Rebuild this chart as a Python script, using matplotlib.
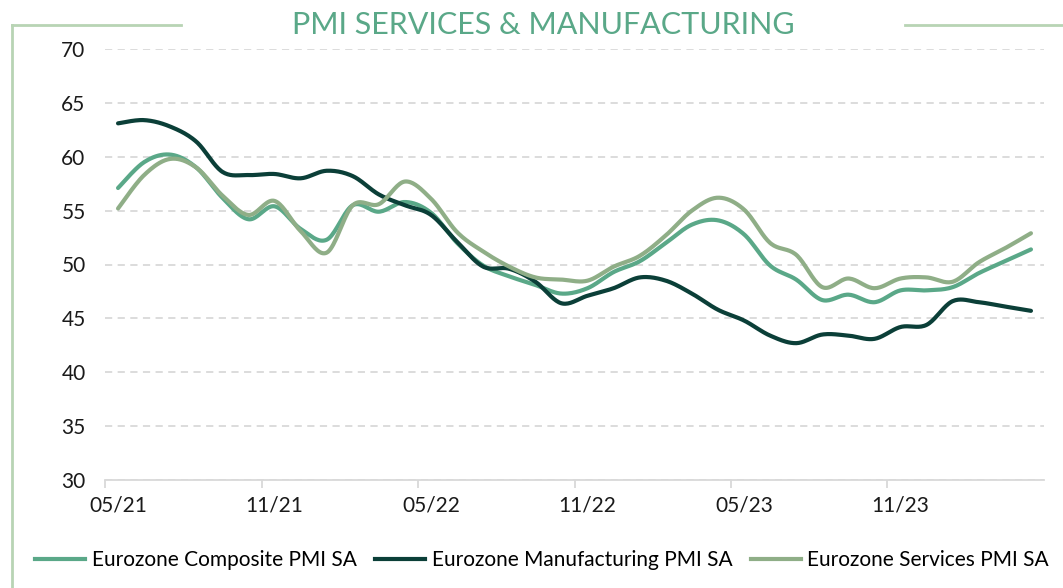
import matplotlib.pyplot as plt
import numpy as np
from matplotlib.lines import Line2D

# monthly values, 05/21 .. 04/24
months = ['05/21', '06/21', '07/21', '08/21', '09/21', '10/21', '11/21', '12/21',
          '01/22', '02/22', '03/22', '04/22', '05/22', '06/22', '07/22', '08/22',
          '09/22', '10/22', '11/22', '12/22', '01/23', '02/23', '03/23', '04/23',
          '05/23', '06/23', '07/23', '08/23', '09/23', '10/23', '11/23', '12/23',
          '01/24', '02/24', '03/24', '04/24']

composite = [57.1, 59.5, 60.2, 59.0, 56.2, 54.2, 55.4, 53.3, 52.3, 55.5, 54.9, 55.8,
             54.8, 52.0, 49.9, 48.9, 48.1, 47.3, 47.8, 49.3, 50.3, 52.0, 53.7, 54.1,
             52.8, 49.9, 48.6, 46.7, 47.2, 46.5, 47.6, 47.6, 47.9, 49.2, 50.3, 51.4]

manufacturing = [63.1, 63.4, 62.8, 61.4, 58.6, 58.3, 58.4, 58.0, 58.7, 58.2, 56.5, 55.5,
                 54.6, 52.1, 49.8, 49.6, 48.4, 46.4, 47.1, 47.8, 48.8, 48.5, 47.3, 45.8,
                 44.8, 43.4, 42.7, 43.5, 43.4, 43.1, 44.2, 44.4, 46.6, 46.5, 46.1, 45.7]

services = [55.2, 58.3, 59.8, 59.0, 56.4, 54.6, 55.9, 53.1, 51.1, 55.5, 55.6, 57.7,
            56.1, 53.0, 51.2, 49.8, 48.8, 48.6, 48.5, 49.8, 50.8, 52.7, 55.0, 56.2,
            55.1, 52.0, 50.9, 47.9, 48.7, 47.8, 48.7, 48.8, 48.4, 50.2, 51.5, 52.9]

names = ['Eurozone Composite PMI SA', 'Eurozone Manufacturing PMI SA', 'Eurozone Services PMI SA']
colors = ['#5aa888', '#0b3f38', '#8fae87']

plt.rcParams['font.family'] = ['Lato', 'DejaVu Sans']


def smooth(y, n=20):
    # Excel-style smoothed line (Catmull-Rom through the points)
    y = np.asarray(y, dtype=float)
    x = np.arange(len(y), dtype=float)
    pts = np.column_stack([x, y])
    out = []
    t = np.linspace(0, 1, n, endpoint=False)[:, None]
    for i in range(len(pts) - 1):
        p0 = pts[max(i - 1, 0)]
        p1 = pts[i]
        p2 = pts[i + 1]
        p3 = pts[min(i + 2, len(pts) - 1)]
        c1 = p1 + (p2 - p0) / 6
        c2 = p2 - (p3 - p1) / 6
        seg = ((1 - t) ** 3) * p1 + 3 * ((1 - t) ** 2) * t * c1 + 3 * (1 - t) * t ** 2 * c2 + t ** 3 * p2
        out.append(seg)
    out.append(pts[-1:])
    out = np.vstack(out)
    return out[:, 0], out[:, 1]


fig = plt.figure(figsize=(10.63, 5.88), dpi=100)
ax = fig.add_axes([105 / 1063, 1 - 480 / 588, (1044 - 105) / 1063, (480 - 49) / 588])

for vals, c in zip([composite, manufacturing, services], colors):
    sx, sy = smooth(vals)
    ax.plot(sx, sy, color=c, lw=3, solid_capstyle='round')

ax.set_xlim(-0.5, len(months) - 0.5)
ax.set_ylim(30, 70)
ax.set_yticks(range(30, 71, 5))
ax.grid(axis='y', color='#d9d9d9', linestyle=(0, (4, 3)), lw=1.3)
ax.set_axisbelow(True)

ticks = np.arange(0, len(months), 6)
ax.set_xticks(ticks - 0.5)
ax.set_xticklabels([])
ax.set_xticks(ticks, minor=True)
ax.set_xticklabels([months[i] for i in ticks], minor=True)
ax.tick_params(axis='x', which='major', length=6, color='#d9d9d9', width=1.3)
ax.tick_params(axis='x', which='minor', length=0, pad=11, labelsize=15, labelcolor='#1a1a1a')
ax.tick_params(axis='y', length=0, pad=14, labelsize=15, labelcolor='#1a1a1a')

for s in ['top', 'right', 'left']:
    ax.spines[s].set_visible(False)
ax.spines['bottom'].set_color('#d9d9d9')
ax.spines['bottom'].set_linewidth(1.3)

# frame lines around the chart
frame = '#b8d4b4'
fig.add_artist(Line2D([12 / 1063, 12 / 1063], [1 - 25 / 588, 0], color=frame, lw=2))
fig.add_artist(Line2D([12 / 1063, 181 / 1063], [1 - 25 / 588, 1 - 25 / 588], color=frame, lw=2))
fig.add_artist(Line2D([905 / 1063, 1], [1 - 25 / 588, 1 - 25 / 588], color=frame, lw=2))

fig.text(543 / 1063, 1 - 25 / 588, 'PMI SERVICES & MANUFACTURING', ha='center', va='center',
         fontsize=22, color='#5aa888')

handles = [Line2D([], [], color=c, lw=3) for c in colors]
fig.legend(handles, names, loc='center', bbox_to_anchor=(0.51, 1 - 560 / 588), ncol=3,
           frameon=False, fontsize=15, handlelength=2.4, handletextpad=0.3, columnspacing=0.9)

fig.savefig('out.png', dpi=100)
